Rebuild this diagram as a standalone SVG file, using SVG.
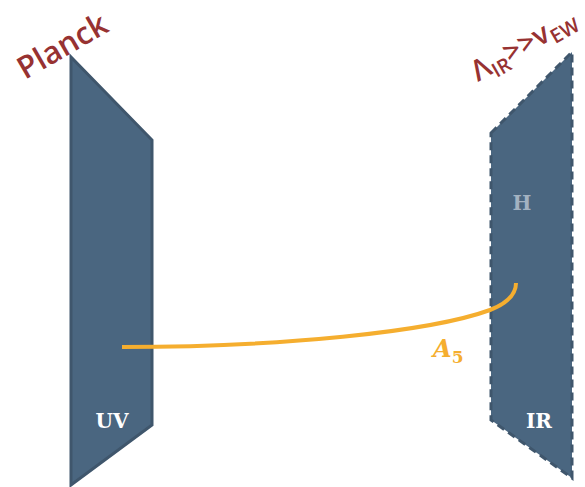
<svg xmlns="http://www.w3.org/2000/svg" width="585" height="487" viewBox="0 0 585 487">
<style>
.brane{fill:#4a6680;stroke:#3f566c;stroke-width:3;stroke-linejoin:miter}
.dash{stroke-dasharray:8,5}
.lbl{font-family:"DejaVu Serif","Liberation Serif",serif;font-size:20px;font-weight:bold;fill:#ffffff;text-anchor:middle}
.red{font-family:"Open Sans","Noto Sans",sans-serif;font-weight:600;fill:#973232}
</style>
<rect width="585" height="487" fill="#ffffff"/>
<g id="uv">
<polygon class="brane" points="71,57 152,140 152,425 71,485"/>
<text class="lbl" x="112" y="428">UV</text>
</g>
<g id="ir">
<polygon class="brane dash" points="491,133 572,52 572,478 491,420"/>
<text class="lbl" x="539" y="428">IR</text>
<text x="522" y="210" font-family="DejaVu Serif,Liberation Serif,serif" font-weight="bold" font-size="20" fill="#a3b2c1" text-anchor="middle">H</text>
</g>
<g id="planck">
<text class="red" font-size="31" transform="translate(25,80) rotate(-30)">Planck</text>
</g>
<g id="scale">
<text class="red" font-size="29" transform="translate(478,82) rotate(-30)">Λ<tspan font-size="20" dy="6">IR</tspan><tspan dy="-6">&gt;&gt;v</tspan><tspan font-size="20" dy="6">EW</tspan></text>
</g>
<g id="connectors">
<path d="M122,347 C280,347 430,332 490,310 C508,303 516,294 516,283" fill="none" stroke="#f5ae2f" stroke-width="4"/>
<text x="433" y="357" font-family="DejaVu Serif,Liberation Serif,serif" font-style="italic" font-weight="bold" font-size="24" fill="#f5ae2f">A<tspan font-style="normal" font-size="17" dy="6">5</tspan></text>
</g>
</svg>
